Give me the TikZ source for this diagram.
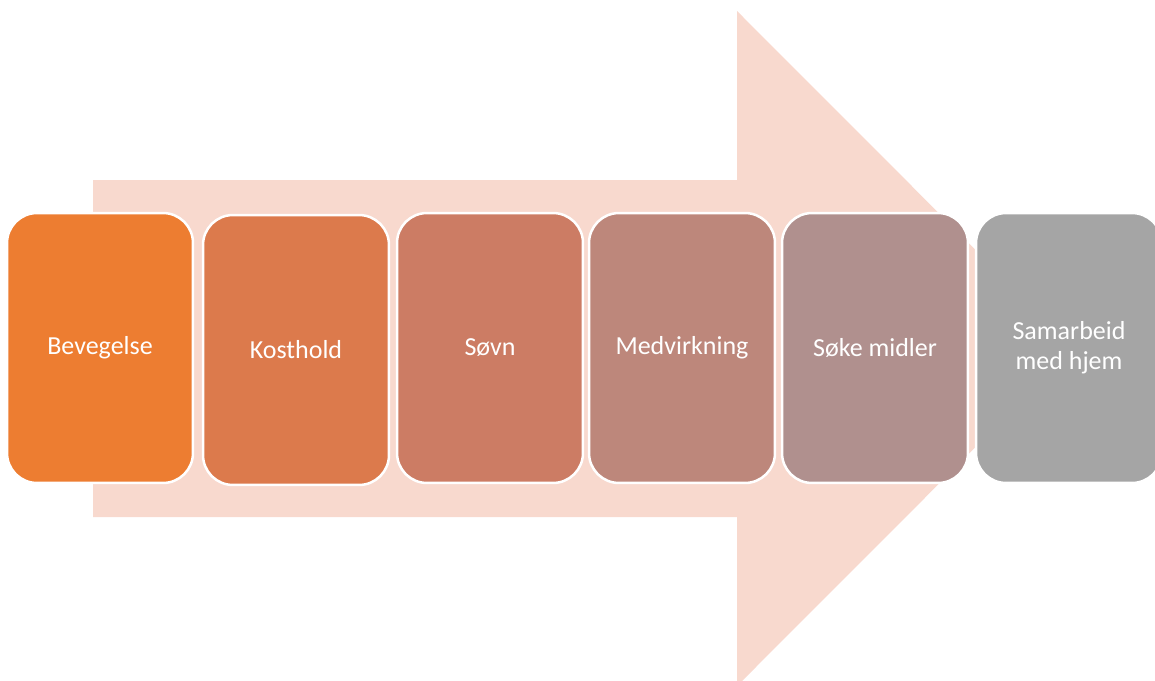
\documentclass[tikz,border=0pt]{standalone}
\usepackage{fontspec}
\setmainfont{Carlito}
\definecolor{arrowfill}{RGB}{248,217,206}
\definecolor{stepA}{RGB}{237,125,49}
\definecolor{stepB}{RGB}{220,122,76}
\definecolor{stepC}{RGB}{204,124,100}
\definecolor{stepD}{RGB}{189,135,123}
\definecolor{stepE}{RGB}{176,144,142}
\definecolor{stepF}{RGB}{165,165,165}
\begin{document}
\begin{tikzpicture}[x=0.02cm,y=-0.02cm,
  stepbox/.style={draw=white,line width=0.05cm,rounded corners=0.6cm,
    minimum width=3.72cm,minimum height=5.4cm,inner sep=0pt,
    text=white,align=center,font=\fontsize{14.8}{17}\selectfont}]
\useasboundingbox (0,0) rectangle (1155,680);
\clip (0,0) rectangle (1155,680);

% Drawing the big arrow behind the steps
\fill [arrowfill] (93,180) -- (737,180) -- (737,11) -- (1074,348.5)
  -- (737,686) -- (737,517) -- (93,517) -- cycle;

% Marking the steps
\node [stepbox,fill=stepA] (bevegelse) at (100,348) {Bevegelse};
\node [stepbox,fill=stepB] (kosthold) at (296,350) {Kosthold};
\node [stepbox,fill=stepC] (sovn) at (490,348) {Søvn};
\node [stepbox,fill=stepD] (medvirkning) at (682,348) {Medvirkning};
\node [stepbox,fill=stepE] (midler) at (875,348) {Søke midler};
\node [stepbox,fill=stepF] (hjem) at (1069,348) {Samarbeid\\med hjem};
\end{tikzpicture}
\end{document}
